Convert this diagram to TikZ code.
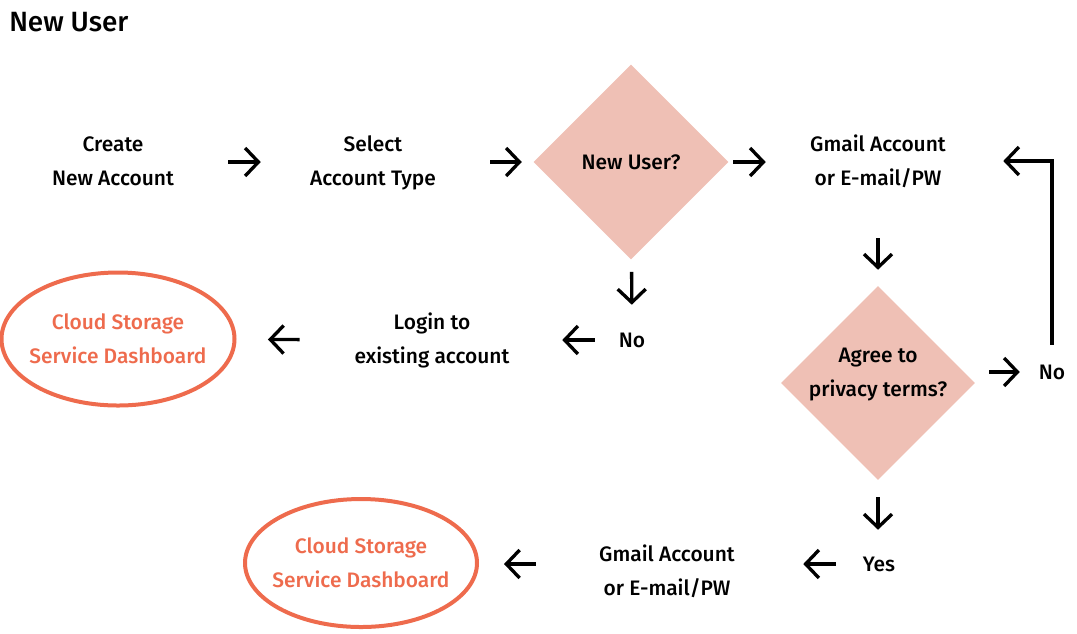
\documentclass[tikz,border=0pt]{standalone}
\usepackage{fontspec}
\IfFontExistsTF{Fira Sans Medium}
  {\setmainfont{Fira Sans Medium}}
  {\setmainfont{Liberation Sans}}
\usepackage{tikz}
\usetikzlibrary{arrows.meta,shapes.geometric}
\definecolor{accent}{HTML}{EE6B4D}
\definecolor{blush}{HTML}{EFC0B5}
\definecolor{ink}{HTML}{000000}
\tikzset{
  lbl/.style={align=center, text=ink, font=\fontsize{15.7}{25.5}\selectfont,
              minimum width=168pt, minimum height=60pt, inner sep=0pt},
  tag/.style={lbl, minimum width=48pt, minimum height=40.5pt},
  gate/.style={diamond, fill=blush, align=center, text=ink, inner sep=0pt,
               font=\fontsize{15.7}{25.5}\selectfont},
  goal/.style={ellipse, draw=accent, line width=3pt, text=accent, align=center,
               font=\fontsize{15.7}{25.5}\selectfont, inner xsep=-12pt, inner ysep=0pt},
  fl/.style={-{Straight Barb[length=10pt, width=21pt]}, draw=ink, line width=2.5pt},
  gap/.style 2 args={shorten <=#1, shorten >=#2}
}

\begin{document}
\begin{tikzpicture}[x=0.75pt, y=-0.75pt]
  \useasboundingbox (0,0) rectangle (1077,633);
  \node[anchor=west, inner sep=0pt, font=\fontsize{20.9}{25}\selectfont] (title) at (9,22) {New User};

  % first row
  \node[lbl] (create) at (113,161) {Create\\New Account};
  \node[lbl] (select) at (373,163) {Select\\Account Type};
  \node[gate, minimum size=146.25pt] (isnew) at (631,162) {New User?};
  \node[lbl] (gmail) at (878,161) {Gmail Account\\or E-mail/PW};
  \draw[fl, gap={2.25pt}{0pt}] (create.east |- isnew) -- (select.west |- isnew);
  \draw[fl, gap={3.75pt}{8.6pt}] (select.east |- isnew) -- (isnew);
  \draw[fl, gap={3.4pt}{0pt}] (isnew) -- (gmail.west |- isnew);

  % existing user
  \node[tag] (no1) at (632,340) {No};
  \node[lbl] (login) at (432,340) {Login to\\existing account};
  \node[goal, minimum width=174.75pt, minimum height=99.75pt] (cloud1) at (118,339) {Cloud Storage\\Service Dashboard};
  \draw[fl, gap={9.4pt}{6pt}] (isnew) -- (no1);
  \draw[fl, gap={3.75pt}{13.5pt}] (no1) -- (login);
  \draw[fl, gap={15pt}{23.6pt}] (login) -- (cloud1);

  % privacy terms
  \node[gate, minimum size=145.5pt] (agree) at (878,383) {};
  \node[lbl, minimum height=0pt] (agreetext) at ([yshift=6.5pt]agree.center) {Agree to\\privacy terms?};
  \node[tag] (no2) at (1052,372) {No};
  \draw[fl, gap={27.75pt}{12pt}] (gmail) -- (agree);
  \draw[fl, gap={10.5pt}{0pt}] (agree.east |- no2) -- (no2);
  \draw[fl, shorten >=9.75pt] (no2.north) |- (gmail.east);

  % new user done
  \node[tag] (yes) at (879,564) {Yes};
  \node[lbl] (gmailb) at (667,571) {Gmail Account\\or E-mail/PW};
  \node[goal, minimum width=174pt, minimum height=96pt] (cloud2) at (361,563) {Cloud Storage\\Service Dashboard};
  \draw[fl, gap={12.75pt}{5.25pt}] (agree.south) -- (yes.north -| agree.south);
  \draw[fl, gap={8.25pt}{18pt}] (yes.west) -- (yes.west -| gmailb.east);
  \draw[fl, gap={14.25pt}{18.75pt}] (gmailb.west |- yes.west) -- (cloud2.east |- yes.west);
\end{tikzpicture}
\end{document}
